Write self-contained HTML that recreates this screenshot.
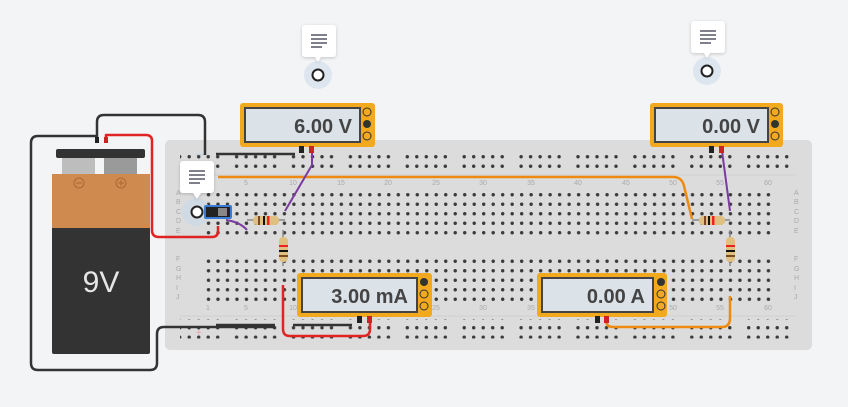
<!DOCTYPE html>
<html><head><meta charset="utf-8"><style>
html,body{margin:0;padding:0;background:#f3f4f6;width:848px;height:407px;overflow:hidden}
svg{display:block}
text{font-family:"Liberation Sans",sans-serif}
.mt{font-weight:bold;fill:#444}
</style></head><body>
<svg width="848" height="407" viewBox="0 0 848 407" xmlns="http://www.w3.org/2000/svg">
<defs>
<pattern id="h" x="203.8" y="0" width="9.49" height="9.5" patternUnits="userSpaceOnUse"><circle cx="4.7" cy="4.75" r="1.7" fill="#3a3a3a"/></pattern>
<pattern id="r" x="175" y="0" width="56.9" height="9.5" patternUnits="userSpaceOnUse">
<circle cx="4.7" cy="4.75" r="1.7" fill="#3a3a3a"/><circle cx="14.2" cy="4.75" r="1.7" fill="#3a3a3a"/><circle cx="23.7" cy="4.75" r="1.7" fill="#3a3a3a"/><circle cx="33.2" cy="4.75" r="1.7" fill="#3a3a3a"/><circle cx="42.7" cy="4.75" r="1.7" fill="#3a3a3a"/></pattern>
<filter id="sh" x="-20%" y="-20%" width="140%" height="150%"><feDropShadow dx="0" dy="1" stdDeviation="1.5" flood-opacity="0.2"/></filter>
</defs>
<rect x="165" y="140" width="647" height="210" rx="5" fill="#dcdcdc"/>
<line x1="180" y1="175" x2="795" y2="175" stroke="#cfcfcf"/>
<line x1="180" y1="316" x2="795" y2="316" stroke="#cfcfcf"/>
<rect x="180" y="149.5" width="610" height="19" fill="url(#r)"/>
<rect x="180" y="319.5" width="610" height="19" fill="url(#r)"/>
<rect x="203.8" y="187.5" width="569" height="47.5" fill="url(#h)"/>
<rect x="203.8" y="253.5" width="569" height="47.5" fill="url(#h)"/>
<g font-size="7" fill="#aaa">
<text x="176" y="195">A</text><text x="176" y="204">B</text><text x="176" y="214">C</text><text x="176" y="223">D</text><text x="176" y="233">E</text>
<text x="176" y="261">F</text><text x="176" y="271">G</text><text x="176" y="280">H</text><text x="176" y="290">I</text><text x="176" y="299">J</text>
<text x="794" y="195">A</text><text x="794" y="204">B</text><text x="794" y="214">C</text><text x="794" y="223">D</text><text x="794" y="233">E</text>
<text x="794" y="261">F</text><text x="794" y="271">G</text><text x="794" y="280">H</text><text x="794" y="290">I</text><text x="794" y="299">J</text>
</g>
<g font-size="7" fill="#aaa" text-anchor="middle">
<text x="246" y="185">5</text><text x="293" y="185">10</text><text x="341" y="185">15</text><text x="388" y="185">20</text><text x="436" y="185">25</text><text x="483" y="185">30</text><text x="531" y="185">35</text><text x="578" y="185">40</text><text x="626" y="185">45</text><text x="673" y="185">50</text><text x="720" y="185">55</text><text x="768" y="185">60</text>
<text x="208" y="310">1</text><text x="246" y="310">5</text><text x="293" y="310">10</text><text x="436" y="310">25</text><text x="483" y="310">30</text><text x="531" y="310">35</text><text x="673" y="310">50</text><text x="720" y="310">55</text><text x="768" y="310">60</text>
</g>
<text x="196" y="157" font-size="9" fill="#9cc1e0">—</text>
<text x="196" y="336" font-size="10" fill="#f0a0a0">+</text>
<line x1="216" y1="154" x2="295" y2="154" stroke="#333" stroke-width="2.5"/>
<line x1="216" y1="325" x2="275" y2="325" stroke="#333" stroke-width="2.5"/>
<line x1="293" y1="325" x2="352" y2="325" stroke="#333" stroke-width="2.5"/>
<rect x="62" y="156" width="33" height="19" fill="#bdbdbd"/>
<rect x="104" y="156" width="33" height="19" fill="#9a9a9a"/>
<rect x="56" y="149" width="89" height="9" rx="2" fill="#333"/>
<rect x="52" y="174" width="98" height="180" rx="2" fill="#333"/>
<rect x="52" y="174" width="98" height="54" fill="#cf8b4f"/>
<circle cx="79" cy="183" r="5" fill="none" stroke="#a86a35"/><line x1="76" y1="183" x2="82" y2="183" stroke="#a86a35"/>
<circle cx="121" cy="183" r="5" fill="none" stroke="#a86a35"/><line x1="118" y1="183" x2="124" y2="183" stroke="#a86a35"/><line x1="121" y1="180" x2="121" y2="186" stroke="#a86a35"/>
<text x="101" y="292" font-size="30" fill="#e6e6e6" text-anchor="middle">9V</text>
<g fill="none" stroke-width="2.5" stroke-linejoin="round">
<path d="M97 140 V122 Q97 115 104 115 H198 Q205 115 205 122 V155" stroke="#333"/>
<path d="M97 136 H38 Q31 136 31 143 V363 Q31 370 38 370 H150 Q157 370 157 363 V334 Q157 327 164 327 H275" stroke="#333"/>
<path d="M106 140 V135 H146 Q152 135 152 141 V230 Q152 237 159 237 H212 Q218 237 218 231 V226" stroke="#e02424"/>
<path d="M283 285 V329 Q283 336 290 336 H363 Q370 336 370 329 V320" stroke="#e02424"/>
<path d="M218 177 H673 Q682 177 684 186 L692 219" stroke="#ee8a10"/>
<path d="M606 320 Q606 327 613 327 H722 Q730 327 730 318 V296" stroke="#ee8a10"/>
<path d="M312 151 V165 L285 211" stroke="#7a3aa0" stroke-width="2"/>
<path d="M722 151 L730 211" stroke="#7a3aa0" stroke-width="2"/>
<path d="M226 220 Q240 222 247 230" stroke="#7a3aa0" stroke-width="2"/>
</g>
<rect x="95" y="137" width="4" height="6" fill="#222"/><rect x="104" y="137" width="4" height="6" fill="#c22"/>
<g stroke="#888" stroke-width="1.5"><line x1="247" y1="220" x2="285" y2="220"/><line x1="283" y1="230" x2="283" y2="266"/><line x1="692" y1="220" x2="730" y2="220"/><line x1="730" y1="230" x2="730" y2="266"/></g>
<rect x="253" y="216" width="26" height="9" rx="4" fill="#e0c080"/>
<rect x="258" y="216" width="2" height="9" fill="#7a4a20"/><rect x="263" y="216" width="2" height="9" fill="#111"/><rect x="267" y="216" width="2.5" height="9" fill="#e22"/>
<rect x="279" y="237" width="9" height="25" rx="4" fill="#e0c080"/>
<rect x="279" y="245" width="9" height="2" fill="#e22"/><rect x="279" y="250" width="9" height="2" fill="#111"/><rect x="279" y="255" width="9" height="2" fill="#7a4a20"/>
<rect x="699" y="216" width="26" height="9" rx="4" fill="#e0c080"/>
<rect x="704" y="216" width="2" height="9" fill="#7a4a20"/><rect x="708" y="216" width="2" height="9" fill="#111"/><rect x="712" y="216" width="2.5" height="9" fill="#e22"/>
<rect x="726" y="237" width="9" height="25" rx="4" fill="#e0c080"/>
<rect x="726" y="245" width="9" height="2" fill="#e22"/><rect x="726" y="250" width="9" height="2" fill="#111"/><rect x="726" y="255" width="9" height="2" fill="#7a4a20"/>
<circle cx="196" cy="212" r="14" fill="#c9d8e8" opacity="0.7"/>
<rect x="204" y="205" width="28" height="14" rx="2" fill="#3a7bd5"/>
<rect x="206" y="207" width="24" height="10" fill="#222"/><rect x="218" y="208" width="9" height="8" fill="#888"/>
<circle cx="197" cy="212" r="5.5" fill="#fff" stroke="#222" stroke-width="2"/>
<g filter="url(#sh)">
<rect x="180" y="161" width="34" height="32" rx="3" fill="#fff"/><path d="M193 193 L197 199 L201 193Z" fill="#fff"/>
</g>
<g stroke="#556" stroke-width="1.5"><line x1="189" y1="171" x2="205" y2="171"/><line x1="189" y1="175" x2="205" y2="175"/><line x1="189" y1="179" x2="205" y2="179"/><line x1="189" y1="183" x2="200" y2="183"/></g>
<circle cx="318" cy="75" r="14" fill="#dde6ef"/><circle cx="318" cy="75" r="5.5" fill="#fff" stroke="#222" stroke-width="2"/>
<g filter="url(#sh)"><rect x="302" y="25" width="34" height="32" rx="3" fill="#fff"/><path d="M315 57 L318 62 L321 57Z" fill="#fff"/></g>
<g stroke="#556" stroke-width="1.5"><line x1="311" y1="35" x2="327" y2="35"/><line x1="311" y1="39" x2="327" y2="39"/><line x1="311" y1="43" x2="327" y2="43"/><line x1="311" y1="47" x2="322" y2="47"/></g>
<circle cx="707" cy="71" r="14" fill="#dde6ef"/><circle cx="707" cy="71" r="5.5" fill="#fff" stroke="#222" stroke-width="2"/>
<g filter="url(#sh)"><rect x="691" y="21" width="34" height="32" rx="3" fill="#fff"/><path d="M704 53 L707 58 L710 53Z" fill="#fff"/></g>
<g stroke="#556" stroke-width="1.5"><line x1="700" y1="31" x2="716" y2="31"/><line x1="700" y1="35" x2="716" y2="35"/><line x1="700" y1="39" x2="716" y2="39"/><line x1="700" y1="43" x2="711" y2="43"/></g>
<rect x="240" y="103" width="135" height="44" rx="3" fill="#f2a91e"/>
<rect x="245" y="108" width="115" height="34" fill="#dbe3e8" stroke="#444" stroke-width="2"/>
<text class="mt" x="352" y="133" font-size="20" text-anchor="end">6.00 V</text>
<circle cx="367" cy="112" r="4" fill="none" stroke="#333"/><circle cx="367" cy="124" r="4" fill="#333"/><circle cx="367" cy="136" r="4" fill="none" stroke="#333"/>
<rect x="299" y="146" width="5" height="7" fill="#222"/><rect x="309" y="146" width="5" height="7" fill="#c22"/>
<rect x="650" y="103" width="133" height="44" rx="3" fill="#f2a91e"/>
<rect x="655" y="108" width="113" height="34" fill="#dbe3e8" stroke="#444" stroke-width="2"/>
<text class="mt" x="760" y="133" font-size="20" text-anchor="end">0.00 V</text>
<circle cx="775" cy="112" r="4" fill="none" stroke="#333"/><circle cx="775" cy="124" r="4" fill="#333"/><circle cx="775" cy="136" r="4" fill="none" stroke="#333"/>
<rect x="709" y="146" width="5" height="7" fill="#222"/><rect x="719" y="146" width="5" height="7" fill="#c22"/>
<rect x="297" y="273" width="135" height="44" rx="3" fill="#f2a91e"/>
<rect x="302" y="278" width="115" height="34" fill="#dbe3e8" stroke="#444" stroke-width="2"/>
<text class="mt" x="408" y="303" font-size="20" text-anchor="end">3.00 mA</text>
<circle cx="424" cy="282" r="4" fill="#333"/><circle cx="424" cy="294" r="4" fill="none" stroke="#333"/><circle cx="424" cy="306" r="4" fill="none" stroke="#333"/>
<rect x="357" y="316" width="5" height="7" fill="#222"/><rect x="367" y="316" width="5" height="7" fill="#c22"/>
<rect x="537" y="273" width="130" height="44" rx="3" fill="#f2a91e"/>
<rect x="542" y="278" width="111" height="34" fill="#dbe3e8" stroke="#444" stroke-width="2"/>
<text class="mt" x="645" y="303" font-size="20" text-anchor="end">0.00 A</text>
<circle cx="661" cy="282" r="4" fill="#333"/><circle cx="661" cy="294" r="4" fill="none" stroke="#333"/><circle cx="661" cy="306" r="4" fill="none" stroke="#333"/>
<rect x="595" y="316" width="5" height="7" fill="#222"/><rect x="604" y="316" width="5" height="7" fill="#c22"/>
</svg>
</body></html>
